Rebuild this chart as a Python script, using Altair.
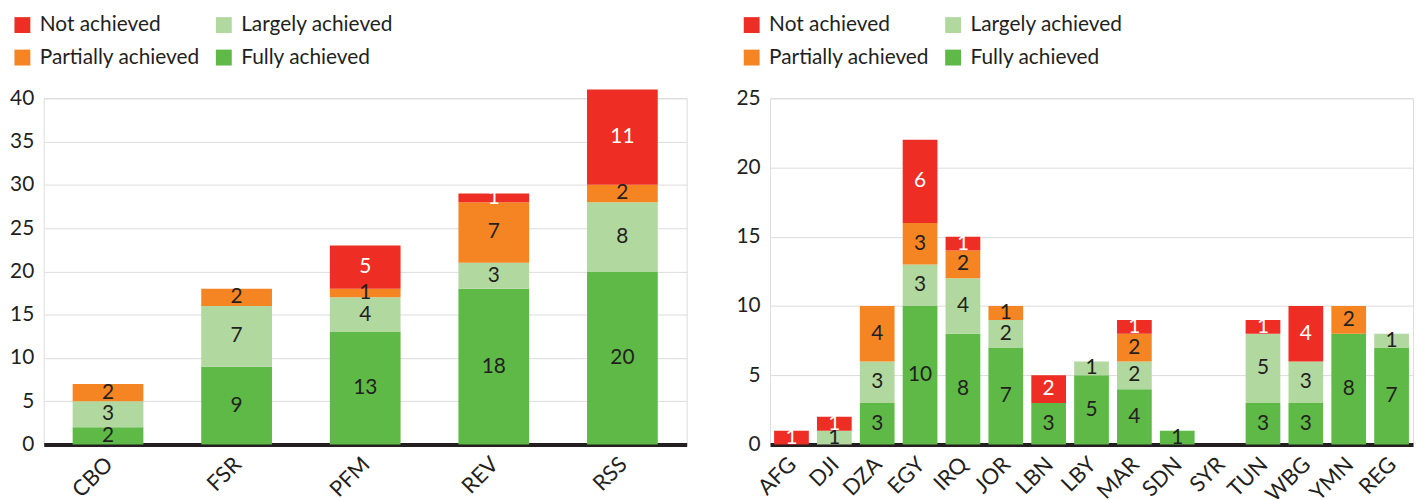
import altair as alt
import pandas as pd

STATUSES = ["Not achieved", "Partially achieved", "Largely achieved", "Fully achieved"]
COLORS = ["#ee2e24", "#f58423", "#b1d89f", "#5eb946"]
STACK_ORDER = {"Fully achieved": 0, "Largely achieved": 1, "Partially achieved": 2, "Not achieved": 3}

left_cats = ["CBO", "FSR", "PFM", "REV", "RSS"]
left_fully = [2, 9, 13, 18, 20]
left_largely = [3, 7, 4, 3, 8]
left_partially = [2, 2, 1, 7, 2]
left_not = [0, 0, 5, 1, 11]

right_cats = ["AFG", "DJI", "DZA", "EGY", "IRQ", "JOR", "LBN", "LBY", "MAR", "SDN", "SYR", "TUN", "WBG", "YMN", "REG"]
right_fully = [0, 0, 3, 10, 8, 7, 3, 5, 4, 1, 0, 3, 3, 8, 7]
right_largely = [0, 1, 3, 3, 4, 2, 0, 1, 2, 0, 0, 5, 3, 0, 1]
right_partially = [0, 0, 4, 3, 2, 1, 0, 0, 2, 0, 0, 0, 0, 2, 0]
right_not = [1, 1, 0, 6, 1, 0, 2, 0, 1, 0, 0, 1, 4, 0, 0]

FONT = "Lato"
DARK = "#231f20"


def long_df(cats, fully, largely, partially, notach):
    rows = []
    for i, c in enumerate(cats):
        for status, vals in [("Fully achieved", fully), ("Largely achieved", largely),
                             ("Partially achieved", partially), ("Not achieved", notach)]:
            v = vals[i]
            if v > 0:
                rows.append({"cat": c, "status": status, "value": v, "ord": STACK_ORDER[status]})
    return pd.DataFrame(rows)


def panel(df, cats, ymax, yvals, pad_inner, legend_x):
    color = alt.Color(
        "status:N",
        scale=alt.Scale(domain=STATUSES, range=COLORS),
        legend=alt.Legend(
            title=None, orient="none", legendX=legend_x, legendY=-84.5,
            columns=2, symbolType="square", symbolSize=256, symbolStrokeWidth=0,
            symbolOpacity=1, labelFontSize=21, labelFont=FONT, labelColor=DARK,
            labelOffset=7, rowPadding=11, columnPadding=13, padding=0, labelLimit=400,
            direction="vertical",
        ),
    )
    xenc = alt.X(
        "cat:N",
        scale=alt.Scale(domain=cats, paddingInner=pad_inner, paddingOuter=pad_inner / 2),
        axis=alt.Axis(title=None, labelAngle=-45, labelFontSize=22, labelFont=FONT,
                      labelColor=DARK, ticks=False, labelPadding=9, labelOffset=-6,
                      domainColor=DARK, domainWidth=4, grid=False),
    )
    yscale = alt.Scale(domain=[0, ymax], nice=False)
    base = alt.Chart(df).transform_stack(
        stack="value", groupby=["cat"], sort=[alt.SortField("ord")], as_=["y0", "y1"]
    )
    bars = base.mark_bar().encode(
        x=xenc,
        y=alt.Y("y0:Q", scale=yscale,
                axis=alt.Axis(title=None, values=yvals, grid=True, gridColor="#dcdcdc",
                              domain=False, ticks=False, labelPadding=10,
                              labelFontSize=21, labelFont=FONT, labelColor=DARK)),
        y2="y1:Q",
        color=color,
    )
    texts = base.transform_calculate(mid="(datum.y0 + datum.y1) / 2").mark_text(
        fontSize=21, font=FONT, baseline="middle", align="center"
    ).encode(
        x=alt.X("cat:N", scale=alt.Scale(domain=cats, paddingInner=pad_inner,
                                         paddingOuter=pad_inner / 2)),
        y=alt.Y("mid:Q", scale=yscale),
        text="value:Q",
        color=alt.condition(alt.datum.status == "Not achieved",
                            alt.value("white"), alt.value(DARK)),
    )
    return alt.layer(bars, texts).properties(width=648, height=349)


left = panel(long_df(left_cats, left_fully, left_largely, left_partially, left_not),
             left_cats, 40, list(range(0, 41, 5)), 0.45, -32)
right = panel(long_df(right_cats, right_fully, right_largely, right_partially, right_not),
              right_cats, 25, list(range(0, 26, 5)), 0.19, -29)

chart = alt.hconcat(left, right, spacing=48).resolve_legend(color="independent").resolve_scale(
    color="independent", x="independent", y="independent"
).properties(
    padding={"left": 1, "top": 4, "right": 0, "bottom": 0}
).configure_view(strokeWidth=0, stroke="transparent").configure(font=FONT)

chart.save("out.html", embed_options={"renderer": "svg", "actions": False})
